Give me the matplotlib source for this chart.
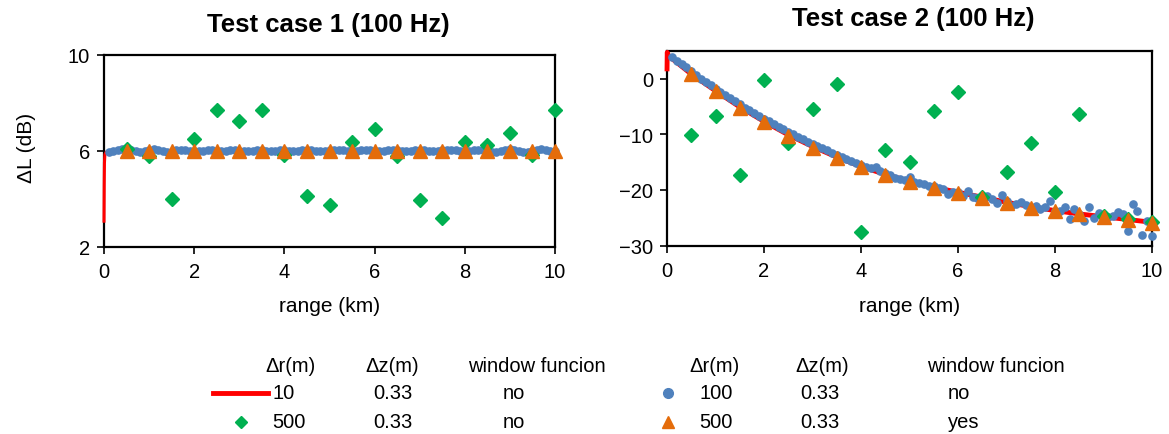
import matplotlib
matplotlib.use("Agg")
import matplotlib.pyplot as plt
from matplotlib.lines import Line2D
import numpy as np

plt.rcParams['font.family'] = ['Liberation Sans', 'DejaVu Sans']

# ---------------- data ----------------
titles = ["Test case 1 (100 Hz)", "Test case 2 (100 Hz)"]
x_label = "range (km)"
y_label = "\u0394L (dB)"

# red line, dr = 10 m (sparse readings of the line)
red_r = [0.0, 0.005, 0.01, 0.02, 0.05, 0.1, 0.5, 1.0, 1.5, 2.0, 2.5, 3.0, 3.5, 4.0, 4.5,
         5.0, 5.5, 6.0, 6.5, 7.0, 7.5, 8.0, 8.5, 9.0, 9.5, 10.0]
red_case1 = [3.0, 4.6, 5.5, 5.85, 5.95, 5.98, 6.0, 5.99, 6.0, 6.0, 5.99, 6.0, 6.0, 6.0, 6.0,
             6.0, 6.0, 6.0, 6.0, 6.0, 6.0, 6.0, 6.0, 6.0, 6.0, 6.02]
red_case2 = [1.3, 4.7, 4.5, 4.3, 4.0, 3.6, 0.8, -2.2, -5.1, -7.7, -10.1, -12.2, -14.1, -15.8, -17.2,
             -18.4, -19.5, -20.4, -21.3, -22.2, -23.0, -23.7, -24.3, -24.8, -25.3, -25.8]

# blue dots, dr = 100 m, window function: no
blue_r = [round(0.1 * i, 1) for i in range(1, 101)]
blue_case1 = [5.95, 6.00, 6.05, 6.07, 6.06, 6.02, 5.97, 5.94, 5.97, 6.03,
              6.06, 6.04, 5.99, 5.95, 5.96, 6.01, 6.04, 6.03, 5.99, 5.96,
              5.97, 6.00, 6.02, 6.01, 5.98, 5.97, 5.99, 6.01, 6.02, 6.00,
              5.98, 5.98, 6.00, 6.02, 6.01, 5.99, 5.98, 6.00, 6.02, 6.02,
              6.00, 5.98, 5.99, 6.01, 6.03, 6.02, 5.99, 5.97, 5.98, 6.01,
              6.03, 6.04, 6.02, 5.99, 5.98, 6.00, 6.03, 6.04, 6.02, 6.00,
              5.99, 6.00, 6.02, 6.03, 6.02, 6.00, 5.98, 5.99, 6.02, 6.04,
              6.03, 6.00, 5.98, 5.98, 6.01, 6.03, 6.03, 6.01, 5.98, 5.97,
              5.99, 6.02, 6.05, 6.04, 6.00, 5.96, 5.95, 5.98, 6.03, 6.06,
              6.04, 5.99, 5.95, 5.95, 5.99, 6.04, 6.07, 6.05, 6.00, 5.98]
blue_case2 = [3.8, 3.2, 2.6, 2.0, 1.3, 0.7, 0.0, -0.6, -1.2, -1.8,
              -2.4, -3.0, -3.5, -4.1, -4.6, -5.2, -5.7, -6.2, -6.7, -7.2,
              -7.7, -8.2, -8.7, -9.1, -9.6, -10.0, -10.5, -10.9, -11.3, -11.7,
              -12.1, -12.5, -12.9, -13.3, -13.7, -14.0, -14.4, -14.8, -15.1, -15.5,
              -15.8, -16.0, -15.8, -16.6, -16.9, -17.4, -17.9, -18.1, -18.2, -17.6,
              -18.6, -18.8, -19.0, -19.3, -19.3, -19.6, -19.9, -20.8, -20.4, -20.4,
              -21.0, -20.2, -21.2, -21.5, -21.8, -21.1, -21.6, -22.3, -20.9, -22.0,
              -22.8, -22.6, -22.1, -22.7, -23.0, -22.9, -23.5, -23.1, -21.9, -23.8,
              -23.7, -23.0, -25.2, -23.5, -24.4, -25.5, -23.1, -25.0, -24.1, -24.6,
              -24.8, -24.7, -23.9, -24.4, -27.3, -22.5, -23.8, -28.0, -25.5, -28.2]

# green diamonds and orange triangles, dr = 500 m
coarse_r = [0.5, 1.0, 1.5, 2.0, 2.5, 3.0, 3.5, 4.0, 4.5, 5.0,
            5.5, 6.0, 6.5, 7.0, 7.5, 8.0, 8.5, 9.0, 9.5, 10.0]
green_case1 = [6.07, 5.76, 3.99, 6.49, 7.69, 7.24, 7.68, 5.82, 4.12, 3.75,
               6.38, 6.90, 5.79, 3.93, 3.18, 6.38, 6.24, 6.74, 5.82, 7.68]
green_case2 = [-10.2, -6.7, -17.4, -0.2, -11.5, -5.5, -1.0, -27.5, -12.8, -15.0,
               -5.9, -2.4, -21.3, -16.8, -11.6, -20.4, -6.4, -24.7, -25.2, -25.8]
orange_case1 = [6.0, 6.0, 6.0, 6.0, 6.0, 6.0, 6.0, 6.0, 6.0, 6.0,
                6.0, 6.0, 6.0, 6.0, 6.0, 6.0, 6.0, 6.0, 6.0, 6.0]
orange_case2 = [0.8, -2.3, -5.2, -7.8, -10.3, -12.4, -14.3, -15.9, -17.3, -18.5,
                -19.7, -20.6, -21.5, -22.4, -23.2, -23.8, -24.3, -24.8, -25.3, -25.9]

x_ticks = [0, 2, 4, 6, 8, 10]
y_ticks = [[2, 6, 10], [-30, -20, -10, 0]]
y_lims = [(2, 10), (-30, 5)]

legend_header = ["\u0394r(m)", "\u0394z(m)", "window funcion"]
legend_left = [["10", "0.33", "no"], ["500", "0.33", "no"]]
legend_right = [["100", "0.33", "no"], ["500", "0.33", "yes"]]

# ---------------- styles ----------------
RED = "#FF0000"
BLUE = "#4F81BD"
GREEN = "#00B050"
ORANGE = "#E46C0A"

W, H = 1169, 435
fig = plt.figure(figsize=(W / 100, H / 100), dpi=100)


def fx(px):
    return px / W


def fy(py):
    return 1 - py / H


axes_px = [(104, 555, 55.7, 247.7), (667, 1152, 51.7, 246.7)]
axs = []
for (l, r, t, b) in axes_px:
    axs.append(fig.add_axes([fx(l), fy(b), (r - l) / W, (b - t) / H]))

reds = [red_case1, red_case2]
blues = [blue_case1, blue_case2]
greens = [green_case1, green_case2]
oranges = [orange_case1, orange_case2]

for i, ax in enumerate(axs):
    ax.plot(red_r, reds[i], color=RED, lw=3.5 if i == 1 else 2.2, zorder=3, clip_on=False,
            solid_capstyle='butt')
    ax.plot(blue_r, blues[i], ls='none', marker='o', ms=5.2, color=BLUE, zorder=4, clip_on=False)
    ax.plot(coarse_r, greens[i], ls='none', marker='D', ms=7.5, color=GREEN, zorder=5, clip_on=False)
    ax.plot(coarse_r, oranges[i], ls='none', marker='^', ms=10, color=ORANGE, zorder=6, clip_on=False)
    ax.set_xlim(0, 10)
    ax.set_ylim(*y_lims[i])
    ax.set_xticks(x_ticks)
    ax.set_yticks(y_ticks[i])
    ax.tick_params(direction='out', length=5, width=1.2, labelsize=14.5, colors='black')
    ax.tick_params(axis='x', pad=6)
    ax.tick_params(axis='y', pad=5)
    for s in ax.spines.values():
        s.set_linewidth(1.6)
        s.set_color('black')
    ax.set_xlabel(x_label, fontsize=15)
    ax.xaxis.set_label_coords(0.5, -(307 - 247.7) / 192)
    ax.xaxis.label.set_va('center')

axs[0].set_ylabel(y_label, fontsize=15)
axs[0].yaxis.set_label_coords((26 - 104) / 451, (247.7 - 148) / 192)
axs[0].yaxis.label.set_va('center')

fig.text(fx(328), fy(25), titles[0], fontsize=18.5, fontweight='bold', ha='center', va='center')
fig.text(fx(913), fy(19), titles[1], fontsize=18.5, fontweight='bold', ha='center', va='center')

# ---------------- legend table ----------------
LFS = 14.5
hy, r1y, r2y = 367, 394, 423
# left block
for txt, cx in zip(legend_header, [290, 392, 537]):
    fig.text(fx(cx), fy(hy), txt, fontsize=LFS, ha='center', va='center')
for row, yy in zip(legend_left, [r1y, r2y]):
    fig.text(fx(272), fy(yy), row[0], fontsize=LFS, ha='left', va='center')
    fig.text(fx(393), fy(yy), row[1], fontsize=LFS, ha='center', va='center')
    fig.text(fx(503), fy(yy), row[2], fontsize=LFS, ha='left', va='center')
fig.add_artist(Line2D([fx(213), fx(268)], [fy(r1y), fy(r1y)], color=RED, lw=3.5,
                      transform=fig.transFigure))
fig.add_artist(Line2D([fx(241)], [fy(r2y)], ls='none', marker='D', ms=6, color=GREEN,
                      transform=fig.transFigure))
# right block
for txt, cx in zip(legend_header, [715, 822, 996]):
    fig.text(fx(cx), fy(hy), txt, fontsize=LFS, ha='center', va='center')
for row, yy in zip(legend_right, [r1y, r2y]):
    fig.text(fx(716), fy(yy), row[0], fontsize=LFS, ha='center', va='center')
    fig.text(fx(820), fy(yy), row[1], fontsize=LFS, ha='center', va='center')
    fig.text(fx(948), fy(yy), row[2], fontsize=LFS, ha='left', va='center')
fig.add_artist(Line2D([fx(668)], [fy(r1y)], ls='none', marker='o', ms=7, color=BLUE,
                      transform=fig.transFigure))
fig.add_artist(Line2D([fx(668)], [fy(r2y)], ls='none', marker='^', ms=8, color=ORANGE,
                      transform=fig.transFigure))

fig.savefig("out.png", dpi=100)
